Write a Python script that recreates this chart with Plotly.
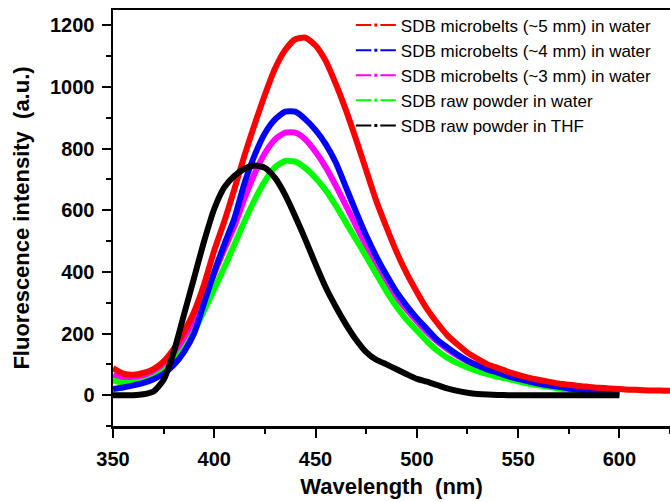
import plotly.graph_objects as go

# ---------------- data ----------------
wl = list(range(350, 605, 5))          # 350 ... 600 nm
wl_red = list(range(350, 630, 5))      # 350 ... 625 nm

red_5mm = [88, 70, 66, 72, 85, 110, 150, 205, 270, 360, 470, 565, 670, 780, 880,
           975, 1060, 1120, 1155, 1160, 1135, 1085, 1010, 925, 830, 730, 630, 545,
           465, 395, 335, 280, 235, 195, 165, 138, 118, 100, 88, 76, 66, 57, 50, 44,
           38, 34, 30, 27, 24, 22, 20, 18, 17, 15, 15, 14]

blue_4mm = [20, 25, 32, 40, 52, 70, 98, 140, 200, 300, 400, 490, 575, 690, 780,
            850, 895, 920, 920, 895, 860, 815, 755, 675, 595, 518, 450, 390, 335,
            290, 250, 215, 180, 155, 132, 112, 96, 83, 73, 62, 53, 45, 38, 32, 27,
            22, 18, 14, 11, 8, 6]

magenta_3mm = [65, 55, 54, 60, 72, 92, 125, 170, 230, 310, 395, 475, 550, 640, 720,
               785, 830, 852, 852, 830, 790, 740, 680, 615, 550, 485, 425, 370, 318,
               278, 240, 205, 175, 150, 128, 110, 95, 82, 70, 60, 50, 43, 36, 30, 25,
               21, 17, 13, 10, 8, 6]

green_powder = [48, 40, 40, 45, 58, 78, 110, 150, 205, 275, 345, 415, 490, 565, 635,
                695, 740, 760, 758, 737, 705, 665, 615, 560, 505, 450, 393, 337, 287,
                245, 210, 175, 145, 122, 104, 90, 78, 68, 60, 53, 45, 38, 32, 27, 22,
                18, 15, 12, 10, 9, 8]

black_thf = [0, 0, 0, 3, 12, 50, 140, 260, 380, 500, 605, 675, 712, 735, 745,
             738, 705, 650, 580, 505, 425, 350, 287, 230, 180, 140, 115, 100, 84,
             68, 53, 44, 33, 22, 14, 8, 4, 2, 1, 0, 0, 0, 0, 0, 0,
             0, 0, 0, 0, 0, 0]

names = ["SDB microbelts (~5 mm) in water",
         "SDB microbelts (~4 mm) in water",
         "SDB microbelts (~3 mm) in water",
         "SDB raw powder in water",
         "SDB raw powder in THF"]

x_ticks = [350, 400, 450, 500, 550, 600]
y_ticks = [0, 200, 400, 600, 800, 1000, 1200]

# ---------------- figure ----------------
RED, BLUE, MAG, GRN, BLK = "#ff0000", "#0000ff", "#ff00ff", "#00ff00", "#000000"
series = {
    "red": (wl_red, red_5mm, RED, names[0]),
    "blue": (wl, blue_4mm, BLUE, names[1]),
    "mag": (wl, magenta_3mm, MAG, names[2]),
    "grn": (wl, green_powder, GRN, names[3]),
    "blk": (wl, black_thf, BLK, names[4]),
}

fig = go.Figure()
# drawing order (bottom -> top)
for key in ["mag", "grn", "blue", "red", "blk"]:
    xs, ys, col, nm = series[key]
    fig.add_trace(go.Scatter(x=xs, y=ys, mode="lines", name=nm, showlegend=False,
                             line=dict(color=col, width=6, shape="spline", smoothing=0.6),
                             hoverinfo="skip"))

# legend entries (Origin-like "line - square - line" samples)
for key in ["red", "blue", "mag", "grn", "blk"]:
    xs, ys, col, nm = series[key]
    fig.add_trace(go.Scatter(x=[None], y=[None], mode="lines+markers", name=nm,
                             line=dict(color=col, width=2),
                             marker=dict(symbol="square", size=6, color=col,
                                         line=dict(color="white", width=3))))

FONT = "Liberation Sans, Arial, Helvetica, sans-serif"
axis_common = dict(showline=True, linecolor="black", linewidth=2.5,
                   ticks="outside", ticklen=9, tickwidth=2, tickcolor="black",
                   showgrid=False, zeroline=False, automargin=False,
                   tickfont=dict(family=FONT, size=20, color="black", weight="bold"))

fig.update_xaxes(range=[350, 625], tickvals=x_ticks, mirror=True,
                 minor=dict(ticks="outside", ticklen=5, tickwidth=2, dtick=25,
                            tick0=350, tickcolor="black"),
                 ticklabelstandoff=4,
                 title=dict(text="Wavelength\u00a0 (nm)", standoff=10,
                            font=dict(family=FONT, size=22, color="black", weight="bold")),
                 **axis_common)
fig.update_yaxes(range=[-100, 1250], tickvals=y_ticks,
                 minor=dict(ticks="outside", ticklen=5, tickwidth=2, dtick=100,
                            tick0=0, tickcolor="black"),
                 ticklabelstandoff=3,
                 title=dict(text="Fluorescence intensity\u00a0 (a.u.)", standoff=15,
                            font=dict(family=FONT, size=22, color="black", weight="bold")),
                 **axis_common)

fig.update_layout(
    width=670, height=502,
    margin=dict(l=113, r=0, t=10, b=76, autoexpand=False),
    plot_bgcolor="white", paper_bgcolor="white",
    font=dict(family=FONT, color="black"),
    legend=dict(x=0.427, y=1.006, xanchor="left", yanchor="top",
                bgcolor="rgba(0,0,0,0)", borderwidth=0,
                font=dict(family=FONT, size=17, color="black"),
                itemwidth=40, tracegroupgap=0),
)

fig.write_html("out.html",
               config={"displayModeBar": False, "staticPlot": True},
               post_script="document.body.style.margin='0';document.body.style.padding='0';")
